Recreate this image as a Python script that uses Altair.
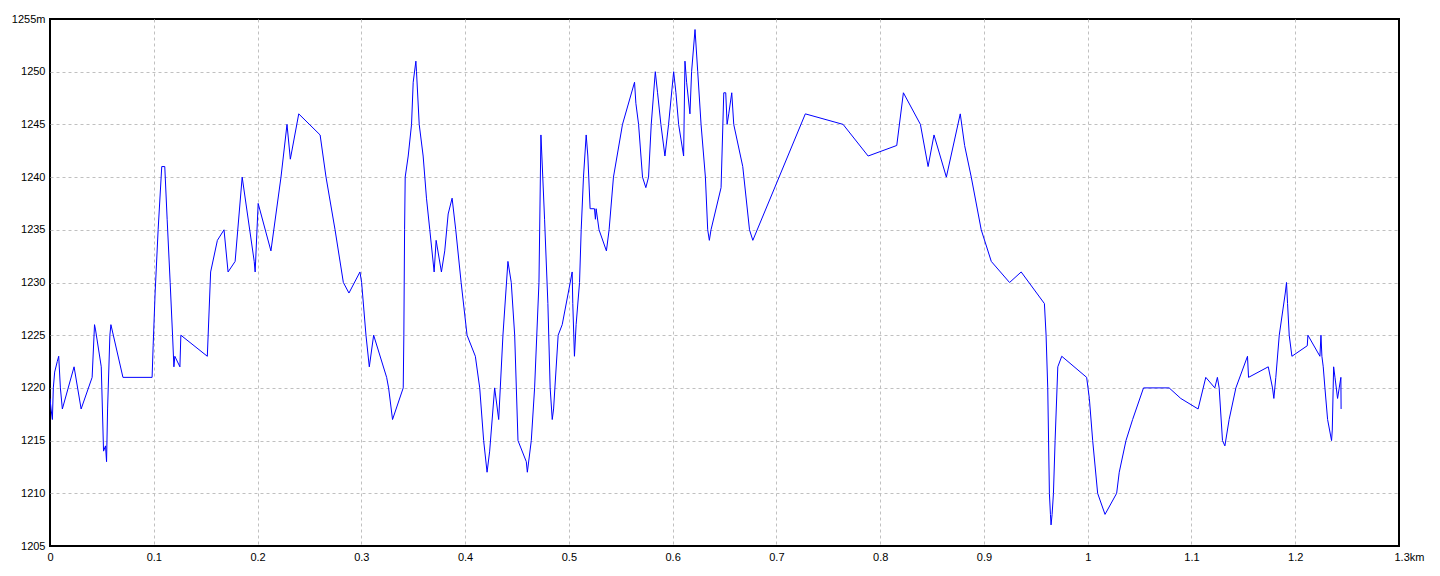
import altair as alt
import pandas as pd

# distance along the route (km)
distance_km = [
    0.000, 0.0010, 0.0023, 0.0032, 0.0045, 0.0070, 0.0084, 0.0100, 0.0119, 0.0232,
    0.0300, 0.0406, 0.0429, 0.0439, 0.0494, 0.0516, 0.0535, 0.0545, 0.0555, 0.0577,
    0.0587, 0.0703, 0.0984, 0.0994, 0.1013, 0.1042, 0.1077, 0.1106, 0.1129, 0.1158,
    0.1181, 0.1194, 0.1203, 0.1252, 0.1261, 0.1516, 0.1548, 0.1613, 0.1677, 0.1716,
    0.1784, 0.1852, 0.1968, 0.1977, 0.2006, 0.2129, 0.2226, 0.2284, 0.2316, 0.2397,
    0.2603, 0.2660, 0.2747, 0.2827, 0.2881, 0.2987, 0.3003, 0.3045, 0.3077, 0.3119,
    0.3244, 0.3263, 0.3301, 0.3404, 0.3410, 0.3417, 0.3423, 0.3452, 0.3484, 0.3500,
    0.3526, 0.3532, 0.3558, 0.3596, 0.3628, 0.3660, 0.3702, 0.3721, 0.3772, 0.3804,
    0.3837, 0.3875, 0.3910, 0.3962, 0.4019, 0.4099, 0.4141, 0.4179, 0.4212, 0.4237,
    0.4285, 0.4324, 0.4365, 0.4413, 0.4445, 0.4478, 0.4510, 0.4590, 0.4600, 0.4638,
    0.4670, 0.4712, 0.4731, 0.4740, 0.4766, 0.4798, 0.4820, 0.4840, 0.4853, 0.4897,
    0.4936, 0.4994, 0.5032, 0.5038, 0.5054, 0.5070, 0.5103, 0.5119, 0.5141, 0.5167,
    0.5183, 0.5205, 0.5247, 0.5256, 0.5263, 0.5291, 0.5362, 0.5388, 0.5430, 0.5517,
    0.5633, 0.5646, 0.5672, 0.5710, 0.5742, 0.5768, 0.5794, 0.5833, 0.5855, 0.5887,
    0.5926, 0.5961, 0.6010, 0.6032, 0.6058, 0.6106, 0.6119, 0.6135, 0.6167, 0.6183,
    0.6216, 0.6242, 0.6274, 0.6316, 0.6338, 0.6354, 0.6370, 0.6467, 0.6493, 0.6512,
    0.6525, 0.6541, 0.6570, 0.6589, 0.6676, 0.6741, 0.6773, 0.7279, 0.7643, 0.7884,
    0.8160, 0.8224, 0.8388, 0.8462, 0.8519, 0.8638, 0.8772, 0.8814, 0.8878, 0.8974,
    0.9071, 0.9247, 0.9359, 0.9583, 0.9599, 0.9615, 0.9631, 0.9641, 0.9647, 0.9657,
    0.9670, 0.9686, 0.9712, 0.9750, 0.9990, 1.0016, 1.0048, 1.0096, 1.0167, 1.0279,
    1.0304, 1.0369, 1.0433, 1.0538, 1.0785, 1.0897, 1.1064, 1.1138, 1.1225, 1.1250,
    1.1267, 1.1299, 1.1322, 1.1363, 1.1428, 1.1540, 1.1550, 1.1740, 1.1781, 1.1794,
    1.1813, 1.1846, 1.1904, 1.1916, 1.1926, 1.1942, 1.1968, 1.2116, 1.2122, 1.2238,
    1.2248, 1.2257, 1.2270, 1.2286, 1.2312, 1.2350, 1.2357, 1.2370, 1.2383, 1.2408,
    1.2424, 1.2440, 1.2442,
]

# elevation (m)
elevation_m = [
    1219, 1218, 1217, 1220, 1221.5, 1222.5, 1223, 1220, 1218, 1222,
    1218, 1221, 1226, 1225.5, 1222, 1214, 1214.5, 1213, 1218, 1225,
    1226, 1221, 1221, 1224, 1229, 1235, 1241, 1241, 1236, 1230,
    1225, 1222, 1223, 1222, 1225, 1223, 1231, 1234, 1235, 1231,
    1232, 1240, 1232, 1231, 1237.5, 1233, 1240, 1245, 1241.7, 1246,
    1244, 1240, 1235, 1230, 1229, 1231, 1230, 1225, 1222, 1225,
    1221, 1220, 1217, 1220, 1225, 1235, 1240, 1242, 1245, 1249,
    1251, 1250, 1245, 1242, 1238, 1235, 1231, 1234, 1231, 1233,
    1236.5, 1238, 1235, 1230, 1225, 1223, 1220, 1215, 1212, 1214,
    1220, 1217, 1225, 1232, 1230, 1225, 1215, 1213, 1212, 1215,
    1220, 1230, 1244, 1242, 1236, 1228, 1220, 1217, 1218, 1225,
    1226, 1229, 1231, 1228, 1223, 1226, 1230, 1235, 1240, 1244,
    1242, 1237, 1237, 1236, 1237, 1235, 1233, 1235, 1240, 1245,
    1249, 1247, 1245, 1240, 1239, 1240, 1245, 1250, 1248, 1245,
    1242, 1245, 1250, 1248, 1245, 1242, 1251, 1249, 1246, 1250,
    1254, 1250, 1245, 1240, 1235, 1234, 1235, 1239, 1248, 1248,
    1245, 1246, 1248, 1245, 1241, 1235, 1234, 1246, 1245, 1242,
    1243, 1248, 1245, 1241, 1244, 1240, 1246, 1243, 1240, 1235,
    1232, 1230, 1231, 1228, 1225, 1220, 1210, 1208, 1207, 1208,
    1210, 1215, 1222, 1223, 1221, 1219, 1215, 1210, 1208, 1210,
    1212, 1215, 1217, 1220, 1220, 1219, 1218, 1221, 1220, 1221,
    1220, 1215, 1214.5, 1217, 1220, 1223, 1221, 1222, 1220, 1219,
    1221, 1225, 1229, 1230, 1228, 1225, 1223, 1224, 1225, 1223,
    1225, 1223, 1222, 1220, 1217, 1215, 1216, 1222, 1221, 1219,
    1220, 1221, 1218,
]

x_ticks = [0, 0.1, 0.2, 0.3, 0.4, 0.5, 0.6, 0.7, 0.8, 0.9, 1.0, 1.1, 1.2, 1.3]
x_tick_labels = ["0", "0.1", "0.2", "0.3", "0.4", "0.5", "0.6", "0.7", "0.8",
                 "0.9", "1", "1.1", "1.2", "1.3km"]
y_ticks = [1205, 1210, 1215, 1220, 1225, 1230, 1235, 1240, 1245, 1250, 1255]
y_tick_labels = ["1205", "1210", "1215", "1220", "1225", "1230", "1235",
                 "1240", "1245", "1250", "1255m"]

df = pd.DataFrame({"d": distance_km, "e": elevation_m})

x_lbl_js = "[" + ",".join("'%s'" % s for s in x_tick_labels) + "][round(datum.value*10)]"
y_lbl_js = "[" + ",".join("'%s'" % s for s in y_tick_labels) + "][round((datum.value-1205)/5)]"

FONT = "Liberation Sans"

chart = alt.Chart(df).mark_line(color="#0000ff", strokeWidth=1, clip=True).encode(
    x=alt.X("d:Q",
            scale=alt.Scale(domain=[0, 1.3], nice=False, zero=False),
            axis=alt.Axis(values=x_ticks, labelExpr=x_lbl_js, title=None,
                          domain=False, ticks=False, grid=True,
                          gridColor="#c0c0c0", gridDash=[3, 3], gridWidth=1,
                          gridOpacity={"condition": {"test": "datum.value <= 0.01 || datum.value >= 1.29", "value": 0},
                                       "value": 1},
                          labelFont=FONT, labelFontSize=11, labelColor="#000000",
                          labelPadding=5, labelBaseline="top",
                          labelAlign={"condition": {"test": "datum.value >= 1.29", "value": "left"},
                                      "value": "center"},
                          labelOffset={"condition": {"test": "datum.value >= 1.29", "value": -5},
                                       "value": 0},
                          labelOverlap=False, labelFlush=False)),
    y=alt.Y("e:Q",
            scale=alt.Scale(domain=[1205, 1255], nice=False, zero=False),
            axis=alt.Axis(values=y_ticks, labelExpr=y_lbl_js, title=None,
                          domain=False, ticks=False, grid=True,
                          gridColor="#c0c0c0", gridDash=[3, 3], gridWidth=1,
                          gridOpacity={"condition": {"test": "datum.value <= 1205.1 || datum.value >= 1254.9", "value": 0},
                                       "value": 1},
                          labelFont=FONT, labelFontSize=11, labelColor="#000000",
                          labelPadding=5, labelBaseline="middle",
                          labelOverlap=False, labelFlush=False)),
).properties(
    width=1349,
    height=527,
    autosize=alt.AutoSizeParams(type="none"),
    padding={"left": 42, "top": 11, "right": 33, "bottom": 22},
    background="#ffffff",
).configure_view(
    stroke="#000000",
    strokeWidth=2,
)

chart.save("out.html", embed_options={"renderer": "svg", "actions": False})
